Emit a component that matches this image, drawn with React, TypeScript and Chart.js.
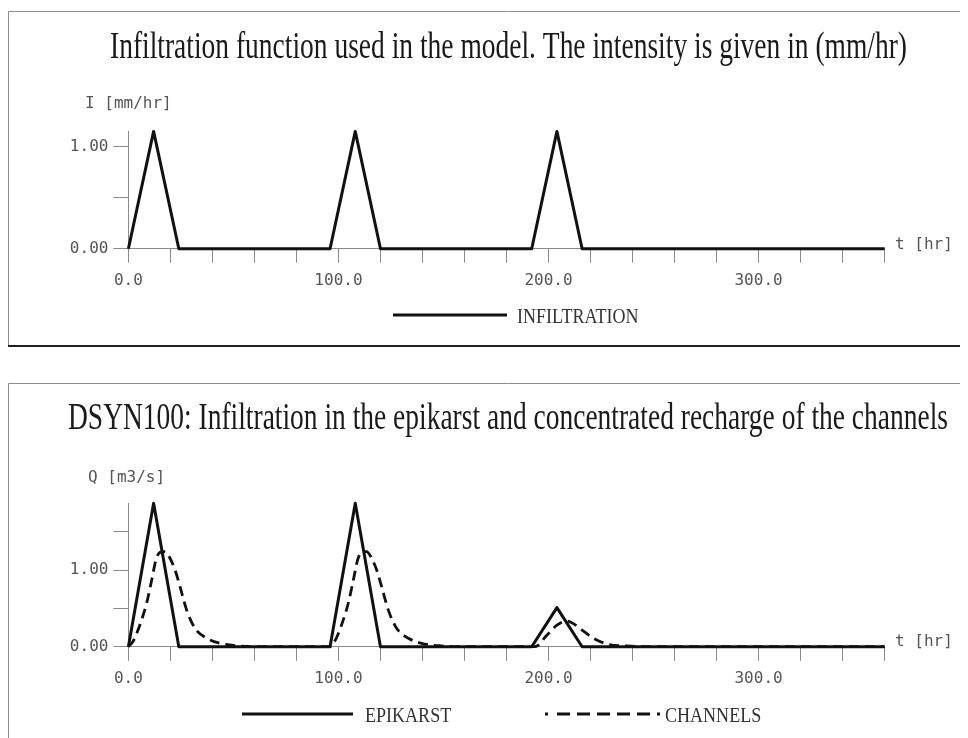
import { useEffect, useRef } from "react";
import { Chart, registerables } from "chart.js";

Chart.register(...registerables);

// ---------- data ----------
const infilT = [0, 12, 24, 96, 108, 120, 192, 204, 216, 360];
const infilV = [0, 1.15, 0, 0, 1.15, 0, 0, 1.15, 0, 0];

const epiT = [0, 12, 24, 96, 108, 120, 192, 204, 216, 360];
const epiV = [0, 1.87, 0, 0, 1.87, 0, 0, 0.51, 0, 0];

const chanT = [
  0, 2, 3.9, 6.3, 8.7, 11.1, 13.1, 15, 17.4, 19.5, 22.2, 24.6, 27.7, 31.7, 37.3, 43.6, 53, 65,
  96, 98, 99.9, 102.3, 104.7, 107.1, 109.1, 111, 113.4, 115.5, 118.2, 120.6, 123.7, 127.7, 133.3, 139.6, 149, 161,
  193.6, 199.2, 204, 208.7, 211.9, 215.8, 221.4, 227.8, 237, 250, 360,
];
const chanV = [
  0, 0.06, 0.17, 0.35, 0.57, 0.87, 1.13, 1.23, 1.24, 1.17, 1.0, 0.78, 0.48, 0.24, 0.11, 0.044, 0.01, 0,
  0, 0.06, 0.17, 0.35, 0.57, 0.87, 1.13, 1.23, 1.24, 1.17, 1.0, 0.78, 0.48, 0.24, 0.11, 0.044, 0.01, 0,
  0, 0.15, 0.28, 0.335, 0.3, 0.22, 0.11, 0.035, 0.01, 0, 0,
];

const xMin = 0;
const xMax = 360;
const xStep = 20;
const xLabelEvery = 100;
const yStep = 0.5;
const topYMax = 1.15;
const bottomYMax = 1.87;

const topTitle = "Infiltration function used in the model. The intensity is given in (mm/hr)";
const bottomTitle = "DSYN100: Infiltration in the epikarst and concentrated recharge of the channels";
const topYLabel = "I [mm/hr]";
const bottomYLabel = "Q [m3/s]";
const xAxisLabel = "t [hr]";
const infilLabel = "INFILTRATION";
const epiLabel = "EPIKARST";
const chanLabel = "CHANNELS";

// ---------- styles ----------
const MONO = '"DejaVu Sans Mono", "Liberation Mono", monospace';
const SERIF = '"Liberation Serif", "Times New Roman", serif';
const AXIS_GRAY = "#8a8a8a";
const TEXT_GRAY = "#555";

type LegendItem = { ds: number; x1: number; x2: number; y: number; tx: number; ty: number; dash: number[] };
type Deco = {
  title: string;
  titleCx: number;
  titleBase: number;
  titleWidth: number;
  yLabel: string;
  yLabelX: number;
  yLabelY: number;
  xLabelX: number;
  xLabelY: number;
  legend: LegendItem[];
  bottomBorder: boolean;
};

function makeDeco(d: Deco) {
  return {
    id: "deco",
    beforeDraw(chart: any) {
      const ctx = chart.ctx as CanvasRenderingContext2D;
      const w = chart.width;
      const h = chart.height;
      ctx.save();
      ctx.fillStyle = "#ffffff";
      ctx.fillRect(0, 0, w, h);
      ctx.strokeStyle = "#8c8c8c";
      ctx.lineWidth = 1;
      ctx.beginPath();
      ctx.moveTo(0.5, h);
      ctx.lineTo(0.5, 0.5);
      ctx.lineTo(w, 0.5);
      ctx.stroke();
      if (d.bottomBorder) {
        ctx.fillStyle = "#222";
        ctx.fillRect(0, h - 2, w, 2);
      }
      ctx.restore();
    },
    afterDraw(chart: any) {
      const ctx = chart.ctx as CanvasRenderingContext2D;
      ctx.save();
      // title (condensed serif)
      ctx.font = `37px ${SERIF}`;
      ctx.fillStyle = "#1a1a1a";
      ctx.textBaseline = "alphabetic";
      ctx.textAlign = "center";
      const tw = ctx.measureText(d.title).width;
      const s = d.titleWidth / tw;
      ctx.save();
      ctx.translate(d.titleCx, d.titleBase);
      ctx.scale(s, 1);
      ctx.fillText(d.title, 0, 0);
      ctx.restore();

      // axis labels
      ctx.font = `16px ${MONO}`;
      ctx.fillStyle = TEXT_GRAY;
      ctx.textAlign = "left";
      ctx.textBaseline = "middle";
      ctx.fillText(d.yLabel, d.yLabelX, d.yLabelY);
      ctx.fillText(xAxisLabel, d.xLabelX, d.xLabelY);

      // legend
      for (const it of d.legend) {
        const ds = chart.data.datasets[it.ds];
        ctx.save();
        ctx.strokeStyle = "#111";
        ctx.lineWidth = 3;
        ctx.setLineDash(it.dash);
        ctx.beginPath();
        ctx.moveTo(it.x1, it.y);
        ctx.lineTo(it.x2, it.y);
        ctx.stroke();
        ctx.restore();
        ctx.save();
        ctx.font = `22px ${SERIF}`;
        ctx.fillStyle = "#333";
        ctx.textAlign = "left";
        ctx.textBaseline = "middle";
        ctx.translate(it.tx, it.ty);
        ctx.scale(0.82, 1);
        ctx.fillText(ds.label, 0, 0);
        ctx.restore();
      }
      ctx.restore();
    },
  };
}

function pts(t: number[], v: number[]) {
  return t.map((x, i) => ({ x, y: v[i] }));
}

function makeOptions(yMax: number, padTop: number, canvasH: number, axisY: number) {
  return {
    responsive: false,
    animation: false as const,
    devicePixelRatio: 1,
    layout: { padding: { left: 0, top: padTop, right: 1000 - 876.6, bottom: 0 } },
    plugins: { legend: { display: false }, title: { display: false }, tooltip: { enabled: false } },
    elements: { point: { radius: 0 } },
    scales: {
      x: {
        type: "linear" as const,
        min: xMin,
        max: xMax,
        afterFit: (s: any) => {
          s.height = canvasH - axisY;
        },
        border: { display: true, color: AXIS_GRAY, width: 1 },
        grid: { drawOnChartArea: false, drawTicks: true, tickLength: 14, color: AXIS_GRAY, lineWidth: 1 },
        ticks: {
          stepSize: xStep,
          autoSkip: false,
          maxRotation: 0,
          minRotation: 0,
          includeBounds: false,
          padding: 9,
          color: TEXT_GRAY,
          font: { family: MONO, size: 16 },
          callback: (v: any) => (Number(v) % xLabelEvery === 0 && Number(v) < xMax ? Number(v).toFixed(1) : ""),
        },
      },
      y: {
        type: "linear" as const,
        min: 0,
        max: yMax,
        afterFit: (s: any) => {
          s.width = 120.4;
        },
        border: { display: true, color: AXIS_GRAY, width: 1 },
        grid: { drawOnChartArea: false, drawTicks: true, tickLength: 15, color: AXIS_GRAY, lineWidth: 1 },
        ticks: {
          stepSize: yStep,
          includeBounds: false,
          autoSkip: false,
          padding: 5,
          color: TEXT_GRAY,
          font: { family: MONO, size: 16 },
          callback: (v: any) => {
            const n = Number(v);
            return Math.abs(n - Math.round(n)) < 1e-9 ? n.toFixed(2) : "";
          },
        },
      },
    },
  };
}

export default function App() {
  const topRef = useRef<HTMLCanvasElement | null>(null);
  const botRef = useRef<HTMLCanvasElement | null>(null);

  useEffect(() => {
    const c1 = new Chart(topRef.current as HTMLCanvasElement, {
      type: "line",
      data: {
        datasets: [
          {
            label: infilLabel,
            data: pts(infilT, infilV),
            borderColor: "#111",
            borderWidth: 3,
            borderJoinStyle: "round",
            tension: 0,
            clip: false as any,
          },
        ],
      },
      options: makeOptions(topYMax, 120.4, 336, 237.7) as any,
      plugins: [
        makeDeco({
          title: topTitle,
          titleCx: 500.5,
          titleBase: 47,
          titleWidth: 797,
          yLabel: topYLabel,
          yLabelX: 77,
          yLabelY: 93,
          xLabelX: 887,
          xLabelY: 234,
          legend: [{ ds: 0, x1: 385, x2: 499, y: 304, tx: 509, ty: 306.5, dash: [] }],
          bottomBorder: true,
        }),
      ],
    });

    const c2 = new Chart(botRef.current as HTMLCanvasElement, {
      type: "line",
      data: {
        datasets: [
          {
            label: epiLabel,
            data: pts(epiT, epiV),
            borderColor: "#111",
            borderWidth: 3,
            borderJoinStyle: "round",
            tension: 0,
            clip: false as any,
          },
          {
            label: chanLabel,
            data: pts(chanT, chanV),
            borderColor: "#111",
            borderWidth: 2.8,
            borderDash: [10, 6],
            cubicInterpolationMode: "monotone",
            clip: false as any,
          },
        ],
      },
      options: makeOptions(bottomYMax, 120.3, 355, 263.7) as any,
      plugins: [
        makeDeco({
          title: bottomTitle,
          titleCx: 500,
          titleBase: 46,
          titleWidth: 880,
          yLabel: bottomYLabel,
          yLabelX: 80,
          yLabelY: 95,
          xLabelX: 887,
          xLabelY: 259,
          legend: [
            { ds: 0, x1: 234, x2: 345, y: 331, tx: 357, ty: 333, dash: [] },
            { ds: 1, x1: 537, x2: 654, y: 331, tx: 657, ty: 333, dash: [3, 9, 13, 7, 13, 7, 13, 7, 13, 7, 13, 7, 3, 40] },
          ],
          bottomBorder: false,
        }),
      ],
    });

    return () => {
      c1.destroy();
      c2.destroy();
    };
  }, []);

  return (
    <div style={{ position: "relative", width: 960, height: 730, overflow: "hidden" }}>
      <canvas
        ref={topRef}
        width={1000}
        height={336}
        style={{ position: "absolute", left: 0, top: 3, width: 1000, height: 336 }}
      />
      <canvas
        ref={botRef}
        width={1000}
        height={355}
        style={{ position: "absolute", left: 0, top: 375, width: 1000, height: 355 }}
      />
    </div>
  );
}
